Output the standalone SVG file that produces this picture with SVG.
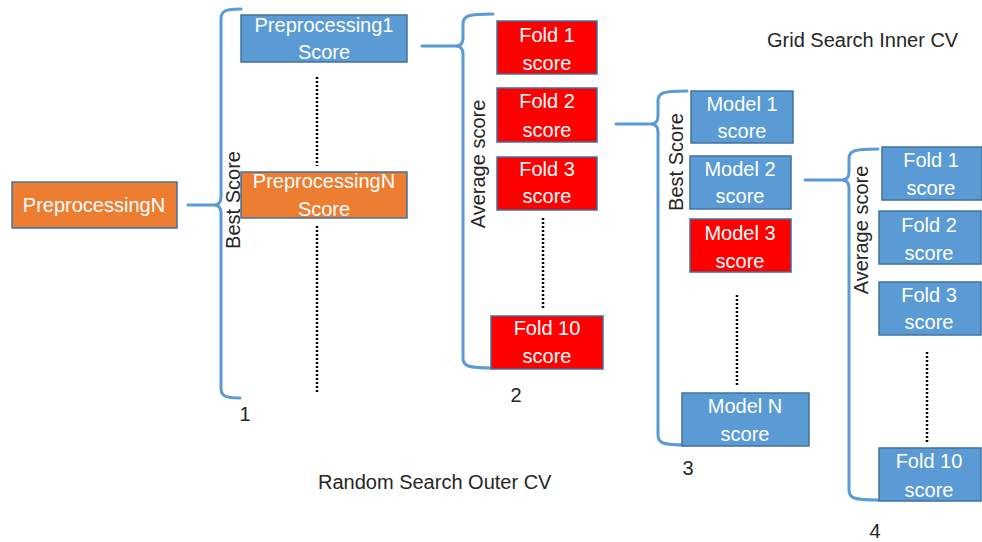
<svg xmlns="http://www.w3.org/2000/svg" width="982" height="542" viewBox="0 0 982 542">
<style>
.bx{stroke:#41719C;stroke-width:1.5}
.blue{fill:#5B9BD5}
.org{fill:#ED7D31}
.red{fill:#FF0000}
.bt{font-family:"Liberation Sans",Arial,sans-serif;font-size:20px;fill:#FFFFFF;text-anchor:middle}
.lb{font-family:"Liberation Sans",Arial,sans-serif;font-size:20px;fill:#262626}
.mid{text-anchor:middle}
.br{fill:none;stroke:#5B9BD5;stroke-width:3;stroke-linecap:round}
.dot{fill:none;stroke:#000;stroke-width:2.5;stroke-dasharray:2 2}
</style>
<rect width="982" height="542" fill="#FFFFFF"/>
<g id="connectors">
<path class="br" d="M241,9 C225,9 221,11 221,19 L221,197 C221,202 219,205 214,205 C219,205 221,208 221,213 L221,388 C221,396 225,398 240,398"/>
<path class="br" d="M188,205 L214,205"/>
<path class="br" d="M493,14 C467,14 463,16 463,24 L463,38 C463,43 461,46 456,46 C461,46 463,49 463,54 L463,358 C463,366 467,368 493,368"/>
<path class="br" d="M422,46 L456,46"/>
<path class="br" d="M687,91 C662,91 658,93 658,101 L658,116 C658,121 656,124 651,124 C656,124 658,127 658,132 L658,435 C658,443 662,445 687,445"/>
<path class="br" d="M616,124 L651,124"/>
<path class="br" d="M878,149 C853,149 849,151 849,159 L849,172 C849,177 847,180 842,180 C847,180 849,183 849,188 L849,490 C849,498 853,500 878,500"/>
<path class="br" d="M805,180 L842,180"/>
<path class="dot" d="M317,77 L317,166"/>
<path class="dot" d="M317,226 L317,394"/>
<path class="dot" d="M543,218 L543,310"/>
<path class="dot" d="M737,295 L737,385"/>
<path class="dot" d="M927,352 L927,442"/>
</g>
<g id="preprocN">
<rect class="bx org" x="12" y="182" width="165" height="46"/>
<text class="bt" x="94" y="212">PreprocessingN</text>
</g>
<g id="pre1score">
<rect class="bx blue" x="241" y="15" width="166" height="47"/>
<text class="bt" x="324" y="32">Preprocessing1</text>
<text class="bt" x="324" y="59">Score</text>
</g>
<g id="preNscore">
<rect class="bx org" x="241" y="172" width="166" height="46"/>
<text class="bt" x="324" y="188">PreprocessingN</text>
<text class="bt" x="324" y="216">Score</text>
</g>
<g id="outerFold1">
<rect class="bx red" x="497" y="21" width="100" height="53"/>
<text class="bt" x="547" y="42">Fold 1</text>
<text class="bt" x="547" y="70">score</text>
</g>
<g id="outerFold2">
<rect class="bx red" x="497" y="88" width="100" height="54"/>
<text class="bt" x="547" y="108">Fold 2</text>
<text class="bt" x="547" y="137">score</text>
</g>
<g id="outerFold3">
<rect class="bx red" x="497" y="157" width="100" height="53"/>
<text class="bt" x="547" y="176">Fold 3</text>
<text class="bt" x="547" y="203">score</text>
</g>
<g id="outerFold10">
<rect class="bx red" x="491" y="316" width="112" height="53"/>
<text class="bt" x="547" y="335">Fold 10</text>
<text class="bt" x="547" y="363">score</text>
</g>
<g id="model1">
<rect class="bx blue" x="691" y="91" width="102" height="52"/>
<text class="bt" x="742" y="111">Model 1</text>
<text class="bt" x="742" y="138">score</text>
</g>
<g id="model2">
<rect class="bx blue" x="690" y="156" width="101" height="53"/>
<text class="bt" x="740" y="176">Model 2</text>
<text class="bt" x="740" y="203">score</text>
</g>
<g id="model3">
<rect class="bx red" x="690" y="219" width="101" height="53"/>
<text class="bt" x="740" y="240">Model 3</text>
<text class="bt" x="740" y="268">score</text>
</g>
<g id="modelN">
<rect class="bx blue" x="682" y="393" width="127" height="53"/>
<text class="bt" x="745" y="413">Model N</text>
<text class="bt" x="745" y="441">score</text>
</g>
<g id="innerFold1">
<rect class="bx blue" x="882" y="147" width="100" height="53"/>
<text class="bt" x="931" y="167">Fold 1</text>
<text class="bt" x="931" y="195">score</text>
</g>
<g id="innerFold2">
<rect class="bx blue" x="879" y="211" width="102" height="53"/>
<text class="bt" x="929" y="232">Fold 2</text>
<text class="bt" x="929" y="260">score</text>
</g>
<g id="innerFold3">
<rect class="bx blue" x="879" y="282" width="102" height="53"/>
<text class="bt" x="929" y="302">Fold 3</text>
<text class="bt" x="929" y="329">score</text>
</g>
<g id="innerFold10">
<rect class="bx blue" x="879" y="448" width="102" height="53"/>
<text class="bt" x="929" y="468">Fold 10</text>
<text class="bt" x="929" y="497">score</text>
</g>
<g id="labels">
<text class="lb mid" transform="translate(240,200) rotate(-90)">Best Score</text>
<text class="lb mid" transform="translate(485,164) rotate(-90)">Average score</text>
<text class="lb mid" transform="translate(683,162) rotate(-90)">Best Score</text>
<text class="lb mid" transform="translate(868,230) rotate(-90)">Average score</text>
<text class="lb mid" x="245" y="421">1</text>
<text class="lb mid" x="516" y="402">2</text>
<text class="lb mid" x="688" y="475">3</text>
<text class="lb mid" x="875" y="538">4</text>
<text class="lb" x="767" y="47">Grid Search Inner CV</text>
<text class="lb" x="318" y="489">Random Search Outer CV</text>
</g>
</svg>
